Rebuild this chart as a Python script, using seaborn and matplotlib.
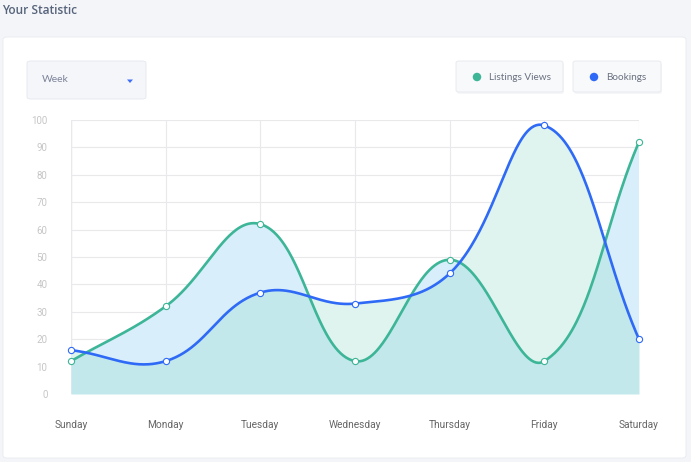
import numpy as np
import pandas as pd
import seaborn as sns
import matplotlib
matplotlib.use("Agg")
import matplotlib.pyplot as plt
from matplotlib.patches import FancyBboxPatch, Ellipse, Polygon

days = ["Sunday", "Monday", "Tuesday", "Wednesday", "Thursday", "Friday", "Saturday"]
listings_views = [12, 32, 62, 12, 49, 12, 92]
bookings = [16, 12, 37, 33, 44, 98, 20]
y_ticks = [0, 10, 20, 30, 40, 50, 60, 70, 80, 90, 100]

GREEN = "#3db597"
BLUE = "#2f6af6"
FILL_OVERLAP = "#c3e8ec"
FILL_BLUE = "#d8eefb"
FILL_GREEN = "#dff4ee"

W, H = 691, 462


def spline(vals, xscale=94.67, yscale=2.74, tension=0.4, n=80):
    # chart.js style bezier through the points, done in pixel space
    pts = np.array([[i * xscale, v * yscale] for i, v in enumerate(vals)], float)
    k = len(pts)
    c1 = pts.copy()
    c2 = pts.copy()
    for i in range(k):
        prev = pts[max(i - 1, 0)]
        nxt = pts[min(i + 1, k - 1)]
        cur = pts[i]
        d01 = np.hypot(*(cur - prev))
        d12 = np.hypot(*(nxt - cur))
        tot = d01 + d12
        s01 = d01 / tot if tot else 0
        s12 = d12 / tot if tot else 0
        c1[i] = cur - tension * s01 * (nxt - prev)
        c2[i] = cur + tension * s12 * (nxt - prev)
    xs, ys = [], []
    t = np.linspace(0, 1, n)[:, None]
    for i in range(k - 1):
        p0, p1, p2, p3 = pts[i], c2[i], c1[i + 1], pts[i + 1]
        seg = ((1 - t) ** 3) * p0 + 3 * ((1 - t) ** 2) * t * p1 + 3 * (1 - t) * t ** 2 * p2 + t ** 3 * p3
        xs.append(seg[:, 0])
        ys.append(seg[:, 1])
    return np.concatenate(xs) / xscale, np.concatenate(ys) / yscale


sns.set_style("white")
plt.rcParams["font.family"] = ["Roboto", "DejaVu Sans"]

fig = plt.figure(figsize=(W / 100, H / 100), dpi=100)
fig.patch.set_facecolor("#f4f5f9")


def fx(px):
    return px / W


def fy(py):
    return 1 - py / H


# card
fig.patches.append(FancyBboxPatch((fx(3), fy(458)), 683 / W, 421 / H,
                                  boxstyle="round,pad=0,rounding_size=0.006",
                                  transform=fig.transFigure, facecolor="white",
                                  edgecolor="#e8ebf0", linewidth=0.6, zorder=0))
fig.text(fx(2.5), fy(10), "Your Statistic", fontsize=8.6, fontweight="semibold",
         color="#56637a", va="center", ha="left", family=["Open Sans", "DejaVu Sans"])

# dropdown
fig.patches.append(FancyBboxPatch((fx(27), fy(99)), 119 / W, 38 / H,
                                  boxstyle="round,pad=0,rounding_size=0.005",
                                  transform=fig.transFigure, facecolor="#f5f6fa",
                                  edgecolor="#e4e7ee", linewidth=0.6, zorder=1))
fig.text(fx(42), fy(80), "Week", fontsize=7.5, color="#7c8399", va="center",
         ha="left", family=["Lato", "DejaVu Sans"])
fig.patches.append(Polygon([(fx(127), fy(79.5)), (fx(133), fy(79.5)), (fx(130), fy(83))],
                           closed=True, transform=fig.transFigure,
                           facecolor="#3f6ef7", edgecolor="none", zorder=2))

# legend boxes
for x0, w, label, col in [(456, 107, "Listings Views", GREEN), (573, 88, "Bookings", BLUE)]:
    fig.patches.append(FancyBboxPatch((fx(x0 + 1), fy(94)), w / W, 31 / H,
                                      boxstyle="round,pad=0,rounding_size=0.004",
                                      transform=fig.transFigure, facecolor="#eceef3",
                                      edgecolor="none", zorder=1, alpha=0.5))
    fig.patches.append(FancyBboxPatch((fx(x0), fy(92)), w / W, 31 / H,
                                      boxstyle="round,pad=0,rounding_size=0.004",
                                      transform=fig.transFigure, facecolor="#f8f9fb",
                                      edgecolor="#e6e8ed", linewidth=0.6, zorder=2))
    fig.patches.append(Ellipse((fx(x0 + 21), fy(77)), 8.5 / W, 8.5 / H, transform=fig.transFigure,
                               facecolor=col, edgecolor="none", zorder=3))
    fig.text(fx(x0 + 33), fy(77), label, fontsize=7.2, color="#6b7180", va="center",
             ha="left", family=["Lato", "DejaVu Sans"], zorder=3)

ax = fig.add_axes([fx(71), fy(394), (639 - 71) / W, (394 - 120) / H])
ax.set_facecolor("none")
ax.set_zorder(5)

gx, gy = spline(listings_views)
bx, by = spline(bookings)
xx = np.linspace(0, 6, 1500)
g = np.interp(xx, gx, gy)
b = np.interp(xx, bx, by)
lo = np.minimum(g, b)
ax.fill_between(xx, 0, lo, color=FILL_OVERLAP, linewidth=0, zorder=1)
ax.fill_between(xx, lo, g, where=g >= b, color=FILL_BLUE, linewidth=0, zorder=1, interpolate=True)
ax.fill_between(xx, lo, b, where=b > g, color=FILL_GREEN, linewidth=0, zorder=1, interpolate=True)

curves = pd.concat([
    pd.DataFrame({"x": gx, "y": gy, "series": "Listings Views"}),
    pd.DataFrame({"x": bx, "y": by, "series": "Bookings"}),
])
sns.lineplot(data=curves, x="x", y="y", hue="series", sort=False, estimator=None,
             palette={"Listings Views": GREEN, "Bookings": BLUE}, linewidth=1.9,
             legend=False, ax=ax, zorder=4)

pts = pd.DataFrame({
    "x": list(range(len(days))) * 2,
    "y": listings_views + bookings,
    "series": ["Listings Views"] * len(days) + ["Bookings"] * len(days),
})
for s, col in [("Listings Views", GREEN), ("Bookings", BLUE)]:
    sub = pts[pts.series == s]
    sns.scatterplot(data=sub, x="x", y="y", s=20, color="white", edgecolor=col,
                    linewidth=0.8, ax=ax, zorder=5, legend=False, clip_on=False)

ax.set_xlim(0, 6)
ax.set_ylim(0, 100)
ax.set_xticks(range(len(days)))
ax.set_xticklabels(days)
ax.set_yticks(y_ticks)
ax.grid(True, color="#e9e9ec", linewidth=0.8, zorder=0)
ax.set_axisbelow(True)
for sp in ax.spines.values():
    sp.set_visible(False)
ax.axvline(0, color="#d6d6da", linewidth=0.9, zorder=0.5)
ax.tick_params(axis="y", length=6, width=0.8, color="#e9e9ec", pad=11,
               labelsize=7, labelcolor="#c6c6c6")
ax.tick_params(axis="x", length=8, width=0.8, color="#e9e9ec", pad=11,
               labelsize=7.3, labelcolor="#666666")
ax.set_xlabel("")
ax.set_ylabel("")

fig.savefig("out.png", dpi=100, facecolor=fig.get_facecolor())
